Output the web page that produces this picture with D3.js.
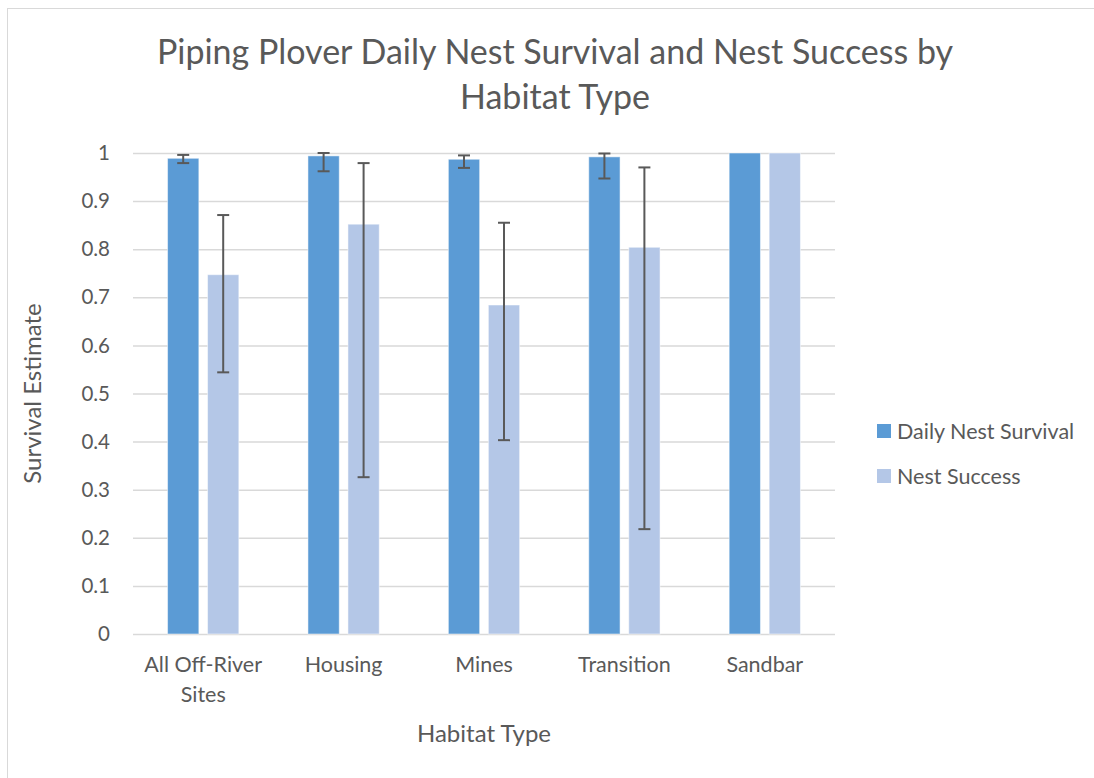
<!DOCTYPE html>
<html>
<head>
<meta charset="utf-8">
<script src="https://cdn.jsdelivr.net/npm/d3@7"></script>
<style>
  body { margin: 0; background: #fff; }
  svg { display: block; font-family: Lato, "Open Sans", sans-serif; }
  .grid line { stroke: #d9d9d9; stroke-width: 1.5; }
  .grid path { display: none; }
</style>
</head>
<body>
<div id="chart"></div>
<script>
// Données
const categories = ["All Off-River Sites", "Housing", "Mines", "Transition", "Sandbar"];
const seriesNames = ["Daily Nest Survival", "Nest Success"];

const dailySurvival = [0.989, 0.994, 0.987, 0.992, 1.0];
const dailyLow = [0.979, 0.962, 0.969, 0.947, null];
const dailyHigh = [0.996, 1.0, 0.995, 0.999, null];

const nestSuccess = [0.747, 0.852, 0.684, 0.804, 1.0];
const nestLow = [0.544, 0.326, 0.403, 0.218, null];
const nestHigh = [0.871, 0.979, 0.855, 0.970, null];

const yTicks = [0, 0.1, 0.2, 0.3, 0.4, 0.5, 0.6, 0.7, 0.8, 0.9, 1];

const width = 1094;
const height = 778;
const plot = { left: 133, right: 835, top: 153, bottom: 634 };
const colors = { "Daily Nest Survival": "#5b9bd5", "Nest Success": "#b4c7e7" };
const textColor = "#595959";

const svg = d3.select("#chart")
  .append("svg")
  .attr("width", width)
  .attr("height", height);

// cadre du graphique
svg.append("rect")
  .attr("x", 7.5).attr("y", 8.5)
  .attr("width", 1200).attr("height", 900)
  .attr("fill", "#fff")
  .attr("stroke", "#d9d9d9");

// Échelles
const x = d3.scaleBand().domain(categories).range([plot.left, plot.right]);
const xSub = d3.scaleBand()
  .domain(seriesNames)
  .range([0, x.bandwidth()])
  .paddingInner(0.2175)
  .paddingOuter(0.864);
const y = d3.scaleLinear().domain([0, 1]).range([plot.bottom, plot.top]);

// Grille
svg.append("g")
  .attr("class", "grid")
  .attr("transform", `translate(${plot.left},0)`)
  .call(d3.axisLeft(y).tickValues(yTicks).tickSize(-(plot.right - plot.left)).tickFormat(""));

// Étiquettes axe Y
svg.append("g")
  .selectAll("text")
  .data(yTicks)
  .enter()
  .append("text")
  .attr("x", 110)
  .attr("y", (d) => y(d))
  .attr("dy", "0.35em")
  .attr("text-anchor", "end")
  .attr("fill", textColor)
  .style("font-size", "20.5px")
  .text((d) => d3.format("~g")(d));

// Données par série
const rows = categories.map((c, i) => ({
  category: c,
  values: [
    { key: seriesNames[0], value: dailySurvival[i], low: dailyLow[i], high: dailyHigh[i] },
    { key: seriesNames[1], value: nestSuccess[i], low: nestLow[i], high: nestHigh[i] },
  ],
}));

const groups = svg.selectAll(".cat")
  .data(rows)
  .enter()
  .append("g")
  .attr("class", "cat")
  .attr("transform", (d) => `translate(${x(d.category)},0)`);

groups.selectAll("rect")
  .data((d) => d.values)
  .enter()
  .append("rect")
  .attr("x", (d) => xSub(d.key))
  .attr("width", xSub.bandwidth())
  .attr("y", (d) => y(d.value))
  .attr("height", (d) => y(0) - y(d.value))
  .attr("fill", (d) => colors[d.key])
  .attr("stroke", "#fff")
  .attr("stroke-opacity", 0.5)
  .attr("stroke-width", 1);

// Barres d'erreur
const err = groups.selectAll(".err")
  .data((d) => d.values.filter((v) => v.low !== null))
  .enter()
  .append("g")
  .attr("class", "err")
  .attr("stroke", "#595959")
  .attr("stroke-width", 2);

const cx = (d) => xSub(d.key) + xSub.bandwidth() / 2;
err.append("line")
  .attr("x1", cx).attr("x2", cx)
  .attr("y1", (d) => y(d.low)).attr("y2", (d) => y(d.high));
err.append("line")
  .attr("x1", (d) => cx(d) - 6).attr("x2", (d) => cx(d) + 6)
  .attr("y1", (d) => y(d.low)).attr("y2", (d) => y(d.low));
err.append("line")
  .attr("x1", (d) => cx(d) - 6).attr("x2", (d) => cx(d) + 6)
  .attr("y1", (d) => y(d.high)).attr("y2", (d) => y(d.high));

// Étiquettes axe X (avec retour à la ligne)
const xLabels = svg.append("g")
  .selectAll("text")
  .data(categories)
  .enter()
  .append("text")
  .attr("x", (d) => x(d) + x.bandwidth() / 2)
  .attr("y", 672)
  .attr("text-anchor", "middle")
  .attr("fill", textColor)
  .style("font-size", "21.5px");

xLabels.each(function (d) {
  const parts = d === "All Off-River Sites" ? ["All Off-River", "Sites"] : [d];
  d3.select(this)
    .selectAll("tspan")
    .data(parts)
    .enter()
    .append("tspan")
    .attr("x", x(d) + x.bandwidth() / 2)
    .attr("dy", (p, i) => (i === 0 ? 0 : 30))
    .text((p) => p);
});

// Titres
svg.append("text")
  .attr("x", 555)
  .attr("text-anchor", "middle")
  .attr("fill", textColor)
  .style("font-size", "34px")
  .selectAll("tspan")
  .data(["Piping Plover Daily Nest Survival and Nest Success by", "Habitat Type"])
  .enter()
  .append("tspan")
  .attr("x", 555)
  .attr("y", (d, i) => 64 + i * 45)
  .text((d) => d);

svg.append("text")
  .attr("x", (plot.left + plot.right) / 2)
  .attr("y", 742)
  .attr("text-anchor", "middle")
  .attr("fill", textColor)
  .style("font-size", "24px")
  .text("Habitat Type");

svg.append("text")
  .attr("transform", `translate(33,${(plot.top + plot.bottom) / 2}) rotate(-90)`)
  .attr("dy", "0.35em")
  .attr("text-anchor", "middle")
  .attr("fill", textColor)
  .style("font-size", "24px")
  .text("Survival Estimate");

// Légende
const legend = svg.selectAll(".legend")
  .data(seriesNames)
  .enter()
  .append("g")
  .attr("class", "legend")
  .attr("transform", (d, i) => `translate(877,${424 + i * 45})`);

legend.append("rect")
  .attr("width", 14)
  .attr("height", 14)
  .attr("fill", (d) => colors[d]);

legend.append("text")
  .attr("x", 20)
  .attr("y", 7)
  .attr("dy", "0.35em")
  .attr("fill", textColor)
  .style("font-size", "21.5px")
  .text((d) => d);
</script>
</body>
</html>
